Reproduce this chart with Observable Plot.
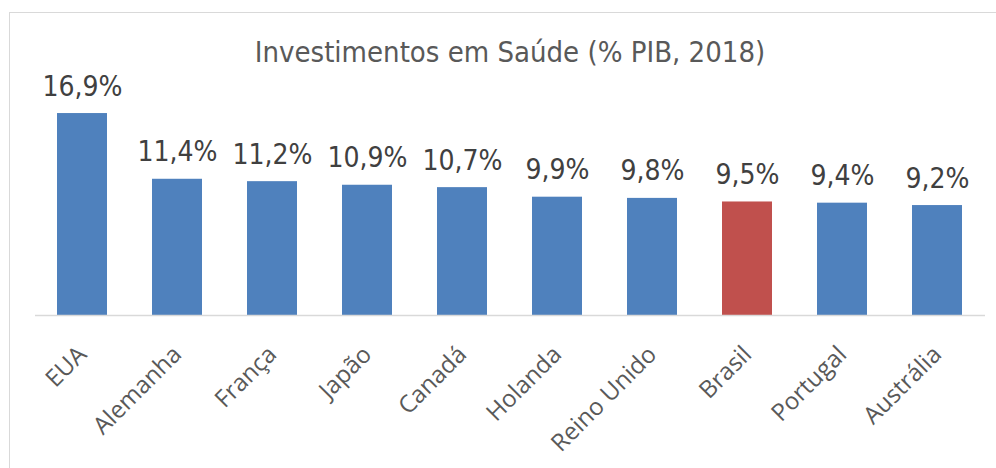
<!DOCTYPE html>
<html>
<head>
<meta charset="utf-8">
<script src="https://cdn.jsdelivr.net/npm/d3@7"></script>
<script src="https://cdn.jsdelivr.net/npm/@observablehq/plot@0.6"></script>
<style>
  html, body { margin: 0; padding: 0; background: #fff; }
  #wrap { position: relative; width: 996px; height: 468px; overflow: hidden; }
  #frame { position: absolute; left: 9px; top: 12px; width: 1000px; height: 480px; border: 1px solid #d9d9d9; box-sizing: border-box; }
  #title { position: absolute; left: 0; width: 1020px; top: 38px; text-align: center; line-height: 29px;
    font-family: "DejaVu Sans Condensed", sans-serif; font-size: 29px; color: #595959; white-space: nowrap; }
  #chart { position: absolute; left: 0; top: 0; }
</style>
</head>
<body>
<div id="wrap">
  <div id="frame"></div>
  <div id="chart"></div>
  <div id="title">Investimentos em Saúde (% PIB, 2018)</div>
</div>
<script>
const countries = ["EUA", "Alemanha", "França", "Japão", "Canadá", "Holanda", "Reino Unido", "Brasil", "Portugal", "Austrália"];
const values = [16.9, 11.4, 11.2, 10.9, 10.7, 9.9, 9.8, 9.5, 9.4, 9.2];
const highlight = "Brasil";
const labels = ["16,9%", "11,4%", "11,2%", "10,9%", "10,7%", "9,9%", "9,8%", "9,5%", "9,4%", "9,2%"];

const data = countries.map((c, i) => ({country: c, value: values[i], label: labels[i]}));

const chart = Plot.plot({
  width: 996,
  height: 468,
  marginLeft: 35,
  marginRight: 11,
  marginTop: 76,
  marginBottom: 153,
  style: {background: "transparent", overflow: "visible"},
  x: {domain: countries, paddingInner: 0.47, paddingOuter: 0.235, axis: null},
  y: {domain: [0, 20], axis: null},
  marks: [
    Plot.barY(data, {x: "country", y: "value", fill: d => d.country === highlight ? "#C0504D" : "#4F81BD"}),
    Plot.ruleY([0], {stroke: "#d9d9d9", strokeWidth: 1.5}),
    Plot.text(data, {x: "country", y: "value", text: "label", dy: -27, fontSize: 28, fill: "#404040",
      fontFamily: "'DejaVu Sans Condensed', sans-serif"}),
    Plot.text(data, {x: "country", y: () => 0, text: "country", dy: 35, rotate: -45, textAnchor: "end",
      lineAnchor: "middle", fontSize: 24, fill: "#595959", fontFamily: "'Open Sans', sans-serif"})
  ]
});
document.getElementById("chart").appendChild(chart);
</script>
</body>
</html>
